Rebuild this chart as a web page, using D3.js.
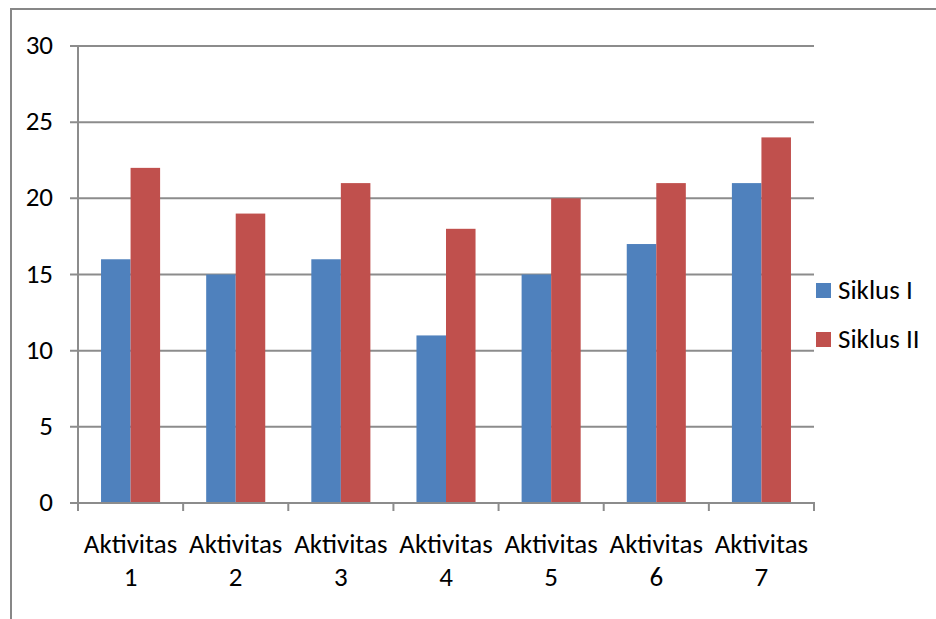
<!DOCTYPE html>
<html>
<head>
<meta charset="utf-8">
<script src="https://cdn.jsdelivr.net/npm/d3@7/dist/d3.min.js"></script>
<style>
  html, body { margin: 0; padding: 0; background: #fff; }
  svg { display: block; }
  text { font-family: Carlito, Calibri, Lato, "Noto Sans", sans-serif; fill: #000; }
</style>
</head>
<body>
<svg id="chart" width="936" height="619"></svg>
<script>
// Chart data
const categories = ["Aktivitas 1", "Aktivitas 2", "Aktivitas 3", "Aktivitas 4", "Aktivitas 5", "Aktivitas 6", "Aktivitas 7"];
const seriesNames = ["Siklus I", "Siklus II"];
const siklus1 = [16, 15, 16, 11, 15, 17, 21];
const siklus2 = [22, 19, 21, 18, 20, 21, 24];
const yTicks = [0, 5, 10, 15, 20, 25, 30];
const colors = ["#4F81BD", "#C0504D"];

const svg = d3.select("#chart");
const W = 936, H = 619;
const fontSize = 27;

// Outer chart frame
svg.append("path")
  .attr("d", `M11,${H} L11,9 L${W},9`)
  .attr("fill", "none")
  .attr("stroke", "#878787")
  .attr("stroke-width", 2);

const plot = { left: 78, right: 814, top: 46, bottom: 503 };

const x = d3.scaleBand().domain(categories).range([plot.left, plot.right]).paddingInner(0).paddingOuter(0);
const y = d3.scaleLinear().domain([0, 30]).range([plot.bottom, plot.top]);

const gridColor = "#8c8c8c";

// Horizontal gridlines with left tick marks
svg.append("g").selectAll("line").data(yTicks).join("line")
  .attr("x1", plot.left - 8).attr("x2", plot.right)
  .attr("y1", d => y(d)).attr("y2", d => y(d))
  .attr("stroke", gridColor).attr("stroke-width", 2);

// Y tick labels
svg.append("g").selectAll("text").data(yTicks).join("text")
  .attr("x", 53).attr("y", d => y(d) + 8)
  .attr("text-anchor", "end")
  .attr("font-size", fontSize)
  .text(d => d);

// Bars
const inner = d3.scaleBand().domain(seriesNames).range([0, x.bandwidth()]).paddingInner(0).paddingOuter(0.78);
const series = [siklus1, siklus2];
series.forEach((vals, si) => {
  svg.append("g").selectAll("rect").data(vals).join("rect")
    .attr("x", (d, i) => x(categories[i]) + inner(seriesNames[si]))
    .attr("width", inner.bandwidth())
    .attr("y", d => y(d))
    .attr("height", d => y(0) - y(d))
    .attr("fill", colors[si]);
});

// Y axis line
svg.append("line")
  .attr("x1", plot.left).attr("x2", plot.left)
  .attr("y1", plot.top).attr("y2", plot.bottom)
  .attr("stroke", gridColor).attr("stroke-width", 2);

// X axis line and category boundary ticks
svg.append("line")
  .attr("x1", plot.left - 8).attr("x2", plot.right + 1)
  .attr("y1", plot.bottom).attr("y2", plot.bottom)
  .attr("stroke", gridColor).attr("stroke-width", 2);
const bounds = categories.map(c => x(c)).concat([plot.right]);
svg.append("g").selectAll("line").data(bounds).join("line")
  .attr("x1", d => d).attr("x2", d => d)
  .attr("y1", plot.bottom).attr("y2", plot.bottom + 8)
  .attr("stroke", gridColor).attr("stroke-width", 2);

// Category labels on two lines
const lab = svg.append("g").selectAll("text").data(categories).join("text")
  .attr("text-anchor", "middle")
  .attr("font-size", fontSize)
  .attr("transform", d => `translate(${x(d) + x.bandwidth() / 2},0)`);
lab.append("tspan").attr("x", 0).attr("y", 553).text(d => d.split(" ")[0]);
lab.append("tspan").attr("x", 0).attr("y", 586).text(d => d.split(" ")[1]);

// Legend
const legend = svg.append("g").selectAll("g").data(seriesNames).join("g")
  .attr("transform", (d, i) => `translate(816,${283 + i * 49})`);
legend.append("rect").attr("width", 15).attr("height", 15).attr("fill", (d, i) => colors[i]);
legend.append("text").attr("x", 22).attr("y", 16)
  .attr("font-size", fontSize).text(d => d);
</script>
</body>
</html>
